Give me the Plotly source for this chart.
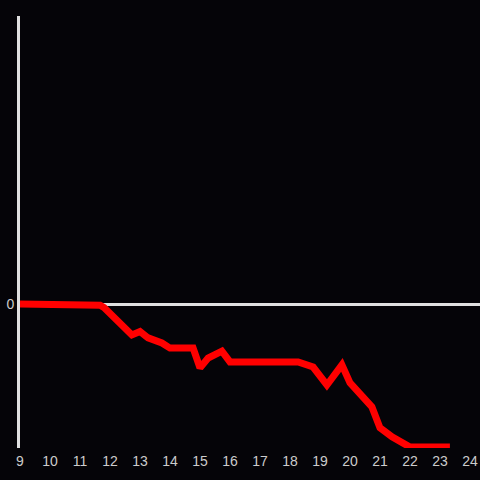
import plotly.graph_objects as go

hours = [9, 11.27, 11.67, 11.8, 12.73, 13.0, 13.27, 13.73, 14.0, 14.77, 15.0, 15.27, 15.73, 16.0,
         18.0, 18.27, 18.77, 19.23, 19.73, 20.0, 20.73, 21.0, 21.4, 22.0, 23.33]
values = [0, 0, -0.4, -1.2, -10.3, -9.2, -11.3, -13, -14.7, -14.7, -21.3, -18, -15.7, -19.3,
          -19.3, -19.3, -21, -27, -20.3, -26.3, -34.3, -41.3, -44.3, -47.7, -47.7]
x_ticks = list(range(9, 25))

fig = go.Figure(go.Scatter(x=hours, y=values, mode="lines",
                           line=dict(color="#ff0000", width=7), hoverinfo="skip"))

fig.update_layout(
    width=480, height=480,
    margin=dict(l=20, r=0, t=16, b=32),
    paper_bgcolor="#050408", plot_bgcolor="#050408",
    showlegend=False,
    font=dict(family="Liberation Sans, Arial, sans-serif", size=14, color="#cccccc"),
    xaxis=dict(range=[9, 24.333], tickvals=x_ticks, showgrid=False, zeroline=False,
               showline=False, ticks="", ticklabelstandoff=3,
               tickfont=dict(size=14, color="#cccccc")),
    yaxis=dict(range=[-48, 96], tickvals=[0], showgrid=False, zeroline=True,
               zerolinecolor="#e0e0e0", zerolinewidth=3,
               showline=True, linecolor="#e0e0e0", linewidth=3, ticks="",
               tickfont=dict(size=14, color="#cccccc")),
)

fig.write_html("out.html", config={"displayModeBar": False},
               post_script="document.body.style.margin='0';document.body.style.background='#050408';")
